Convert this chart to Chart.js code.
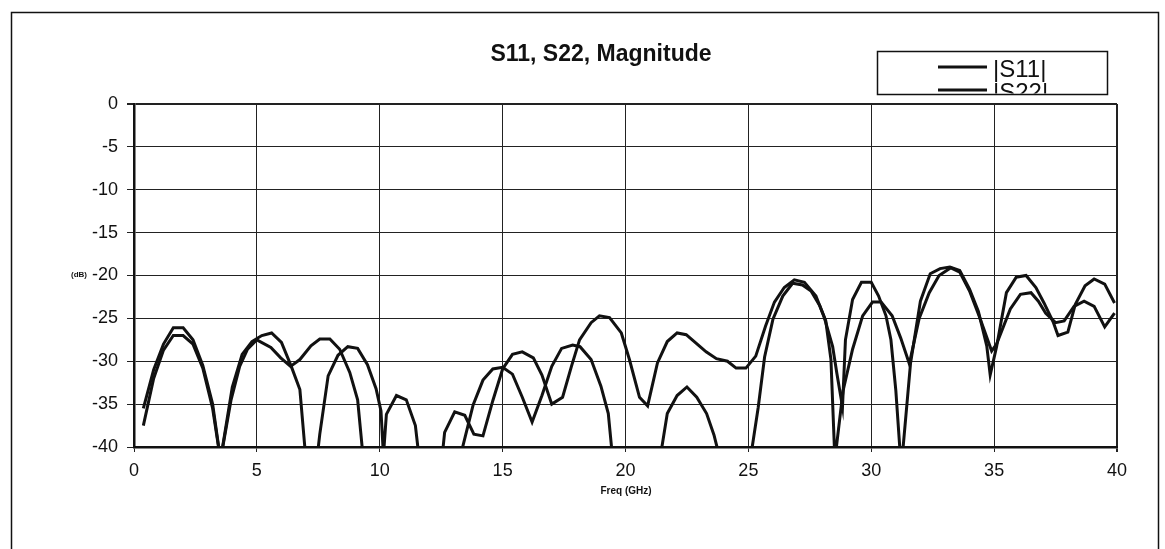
<!DOCTYPE html>
<html>
<head>
<meta charset="utf-8">
<script src="https://cdn.jsdelivr.net/npm/chart.js@4.4.1/dist/chart.umd.min.js"></script>
<style>
  html, body { margin: 0; padding: 0; background: #fff; }
  #wrap { width: 1165px; height: 549px; position: relative; }
</style>
</head>
<body>
<div id="wrap"><canvas id="chart" width="1165" height="549"></canvas></div>
<script>
// Traces: frequency (GHz) and magnitude (dB).
// Values under -40 dB sit below the axis and get clipped, as in the original.
const s11Freq = [0.38, 0.8, 1.2, 1.6, 2.0, 2.4, 2.8, 3.2, 3.52, 4.0, 4.4, 4.8, 5.2, 5.6, 6.0, 6.4, 6.75, 7.1, 7.3, 7.56,
  7.9, 8.3, 8.7, 9.1, 9.5, 9.85, 10.05, 10.15, 10.27, 10.68, 11.08, 11.45, 11.75, 12.4, 12.64, 13.05, 13.46, 13.83, 14.2, 14.6,
  15.0, 15.4, 15.8, 16.25, 16.6, 17.0, 17.44, 17.8, 18.13, 18.6, 18.94, 19.35, 19.83, 20.16, 20.57, 20.9, 21.3, 21.7, 22.1, 22.47,
  22.87, 23.28, 23.7, 24.15, 24.5, 24.9, 25.3, 25.7, 26.06, 26.46, 26.87, 27.28, 27.75, 28.09, 28.43, 28.6, 28.83, 28.95, 29.24, 29.6,
  30.0, 30.3, 30.6, 30.8, 31.0, 31.22, 31.6, 32.0, 32.4, 32.8, 33.2, 33.6, 34.0, 34.36, 34.7, 34.84, 35.1, 35.5, 35.9, 36.3,
  36.7, 37.03, 37.4, 37.6, 38.0, 38.3, 38.7, 39.07, 39.5, 39.9];
const s11Mag = [-35.5, -31, -28, -26.1, -26.1, -27.5, -30.5, -35, -41.5, -33, -29.2, -27.7, -27, -26.7, -27.8, -30.6, -33.3, -45, -45, -38.5,
  -31.7, -29.3, -28.3, -28.5, -30.4, -33.2, -35.8, -41, -36.2, -34, -34.5, -37.5, -45, -45, -38.3, -35.9, -36.3, -38.5, -38.7, -34.6,
  -30.9, -29.2, -28.9, -29.6, -31.6, -35, -34.2, -30.6, -27.5, -25.5, -24.7, -24.9, -26.7, -29.8, -34.2, -35.2, -30.2, -27.7, -26.7, -26.9,
  -27.9, -28.9, -29.7, -30, -30.8, -30.8, -29.4, -25.9, -23.1, -21.4, -20.5, -20.8, -22.4, -24.9, -28.3, -31.4, -35.3, -27.5, -22.8, -20.8,
  -20.8, -22.4, -24.7, -27.5, -33.4, -42.5, -30.2, -23, -19.8, -19.2, -19, -19.4, -21.6, -24.2, -28.2, -31.6, -28.3, -22, -20.2, -20,
  -21.4, -23.2, -25.4, -27, -26.6, -23.4, -21.2, -20.4, -21, -23.2];

const s22Freq = [0.38, 0.8, 1.2, 1.6, 2.0, 2.4, 2.8, 3.2, 3.52, 3.95, 4.3, 4.62, 5.0, 5.57, 5.97, 6.37, 6.75, 7.2, 7.56, 7.97,
  8.37, 8.78, 9.1, 9.45, 13.2, 13.8, 14.2, 14.6, 15.0, 15.4, 15.8, 16.2, 16.6, 17.0, 17.4, 17.85, 18.15, 18.6, 19.0, 19.3,
  19.6, 21.2, 21.7, 22.1, 22.5, 22.9, 23.3, 23.6, 23.9, 25.05, 25.4, 25.66, 26.0, 26.4, 26.8, 27.2, 27.55, 27.9, 28.15, 28.36,
  28.52, 28.85, 29.24, 29.65, 30.05, 30.4, 30.85, 31.2, 31.55, 31.95, 32.36, 32.76, 33.24, 33.6, 34.0, 34.4, 34.9, 35.1, 35.66, 36.07,
  36.5, 36.8, 37.1, 37.5, 37.85, 38.25, 38.66, 39.07, 39.5, 39.9];
const s22Mag = [-37.5, -32, -28.7, -27, -27, -28, -30.8, -35.5, -41.5, -34.5, -30.6, -28.6, -27.5, -28.4, -29.6, -30.6, -29.8, -28.2, -27.4, -27.4,
  -28.6, -31.3, -34.5, -45, -42, -35.1, -32.2, -30.9, -30.7, -31.5, -34.2, -37.1, -34, -30.6, -28.5, -28.1, -28.3, -29.8, -32.9, -36.1,
  -45, -45, -36.1, -34, -33, -34.2, -36.1, -38.6, -42, -42, -35.4, -29.5, -25.1, -22.4, -20.9, -21.1, -21.8, -23.5, -25.3, -29.8,
  -41.5, -33.5, -28.6, -24.7, -23.1, -23.1, -24.7, -27.3, -30.3, -25, -22, -20, -19.1, -19.6, -21.8, -24.8, -28.8, -28, -23.9, -22.2,
  -22, -23, -24.4, -25.5, -25.3, -23.6, -23, -23.6, -26, -24.4];

const xTicks = [0, 5, 10, 15, 20, 25, 30, 35, 40];
const yTicks = [0, -5, -10, -15, -20, -25, -30, -35, -40];
const seriesNames = ["|S11|", "|S22|"];

const INK = "#111";
const FONT = '"Liberation Sans", Arial, Helvetica, sans-serif';

function points(xs, ys) { return xs.map((x, i) => ({ x, y: ys[i] })); }

// frame, title, axis captions and the boxed legend
const decor = {
  id: "decor",
  beforeDraw(chart) {
    const c = chart.ctx;
    c.save();
    c.fillStyle = "#fff";
    c.fillRect(0, 0, chart.width, chart.height);
    c.restore();
  },
  afterDraw(chart) {
    const c = chart.ctx;
    c.save();
    c.strokeStyle = INK;
    c.lineWidth = 1.5;
    c.strokeRect(11.5, 12.5, 1147, 560);

    c.fillStyle = INK;
    c.font = "bold 23px " + FONT;
    c.textAlign = "center";
    c.textBaseline = "alphabetic";
    c.fillText("S11, S22, Magnitude", 601, 61);

    c.font = "bold 8px " + FONT;
    c.textAlign = "right";
    c.textBaseline = "middle";
    c.fillText("(dB)", 87, 275);

    c.font = "bold 10px " + FONT;
    c.textAlign = "center";
    c.fillText("Freq (GHz)", 626, 491);

    // legend box, second entry is cut off by the box edge
    const bx = 877, by = 51, bw = 230, bh = 43;
    c.fillStyle = "#fff";
    c.fillRect(bx, by, bw, bh);
    c.strokeRect(bx + 0.5, by + 0.5, bw, bh);
    c.save();
    c.beginPath();
    c.rect(bx + 1, by + 1, bw - 1, bh - 1.5);
    c.clip();
    c.lineWidth = 3;
    c.fillStyle = INK;
    c.font = "24px " + FONT;
    c.textAlign = "left";
    c.textBaseline = "alphabetic";
    seriesNames.forEach((name, i) => {
      const y = 67 + i * 23;
      c.beginPath();
      c.moveTo(938, y);
      c.lineTo(987, y);
      c.stroke();
      c.fillText(name, 993, y + 10);
    });
    c.restore();
    c.restore();
  }
};

const tickFont = { family: FONT, size: 18 };

new Chart(document.getElementById("chart"), {
  type: "line",
  data: {
    datasets: [
      { label: seriesNames[0], data: points(s11Freq, s11Mag), borderColor: INK, borderWidth: 3, pointRadius: 0, tension: 0, fill: false, clip: { left: 0, top: 0, right: 0, bottom: 1 } },
      { label: seriesNames[1], data: points(s22Freq, s22Mag), borderColor: INK, borderWidth: 3, pointRadius: 0, tension: 0, fill: false, clip: { left: 0, top: 0, right: 0, bottom: 1 } }
    ]
  },
  options: {
    responsive: false,
    animation: false,
    devicePixelRatio: 1,
    layout: { padding: { left: 0, right: 48, top: 104, bottom: 0 } },
    plugins: { legend: { display: false }, title: { display: false }, tooltip: { enabled: false } },
    scales: {
      x: {
        type: "linear",
        min: 0,
        max: 40,
        afterBuildTicks: s => { s.ticks = xTicks.map(v => ({ value: v })); },
        afterFit: s => { s.height = 102; },
        grid: { color: "#222", lineWidth: ctx => (ctx.tick && ctx.tick.value === 40 ? 2 : 1), tickLength: 5 },
        border: { color: INK, width: 2.5 },
        ticks: { color: INK, font: tickFont, padding: 8, maxRotation: 0, autoSkip: false, callback: v => String(v) }
      },
      y: {
        type: "linear",
        min: -40,
        max: 0,
        afterBuildTicks: s => { s.ticks = yTicks.map(v => ({ value: v })); },
        afterFit: s => { s.width = 134; },
        grid: { color: "#222", lineWidth: ctx => (ctx.tick && ctx.tick.value === 0 ? 2 : 1), tickLength: 7 },
        border: { color: INK, width: 2.5 },
        ticks: { color: INK, font: tickFont, padding: 9, autoSkip: false, callback: v => String(v) }
      }
    }
  },
  plugins: [decor]
});
</script>
</body>
</html>
